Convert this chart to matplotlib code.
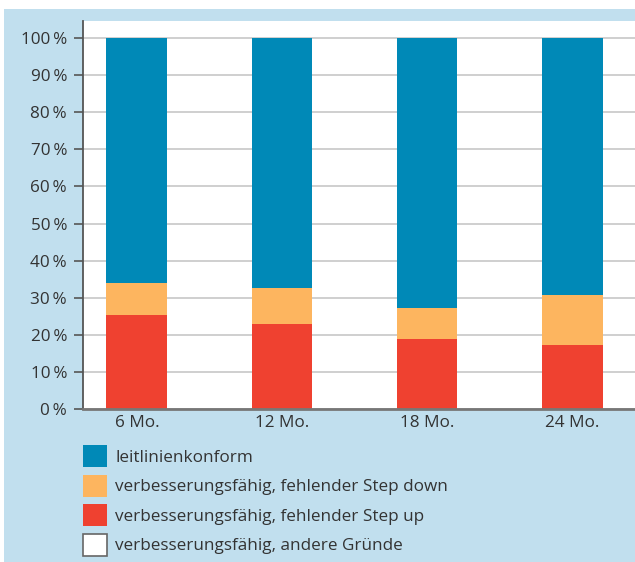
import matplotlib.pyplot as plt
from matplotlib.patches import Rectangle
import numpy as np

plt.rcParams['font.family'] = ['Open Sans', 'DejaVu Sans']

categories = ['6 Mo.', '12 Mo.', '18 Mo.', '24 Mo.']
step_up = [25.3, 22.9, 18.8, 17.2]
step_down = [8.7, 9.7, 8.4, 13.5]
andere = [0, 0, 0, 0]
konform = [66.0, 67.4, 72.8, 69.3]
yticks = [0, 10, 20, 30, 40, 50, 60, 70, 80, 90, 100]

labels = ['leitlinienkonform',
          'verbesserungsfähig, fehlender Step down',
          'verbesserungsfähig, fehlender Step up',
          'verbesserungsfähig, andere Gründe']

c_blue = '#0089b7'
c_orange = '#fdb55f'
c_red = '#ef4130'
c_bg = '#c1dfee'
c_text = '#333333'
fs = 12.3

W, H = 635, 562
fig = plt.figure(figsize=(W / 100, H / 100), dpi=100)
fig.patch.set_facecolor('white')
fig.add_artist(Rectangle((4 / W, 0), 1 - 4 / W, 1 - 9 / H,
                         transform=fig.transFigure, facecolor=c_bg,
                         edgecolor='none', zorder=0))

ax = fig.add_axes([83 / W, 1 - 409 / H, (W - 83) / W, (409 - 21) / H])
ax.set_facecolor('white')

x = np.arange(len(categories))
bw = 0.42
b_up = ax.bar(x, step_up, bw, color=c_red, linewidth=0, zorder=3)
bottom = np.array(step_up)
b_down = ax.bar(x, step_down, bw, bottom=bottom, color=c_orange,
                linewidth=0, zorder=3)
bottom = bottom + np.array(step_down)
b_ok = ax.bar(x, konform, bw, bottom=bottom, color=c_blue,
              linewidth=0, zorder=3)
bottom = bottom + np.array(konform)
ax.bar(x, andere, bw, bottom=bottom, color='white', linewidth=0, zorder=3)
# legend proxy for the (empty) white series
h_and = Rectangle((0, 0), 1, 1, facecolor='white', edgecolor='#666666',
                  linewidth=1.2)

ax.set_xlim(-0.372, 3.434)
ax.set_ylim(0, 104.6)
ax.set_yticks(yticks)
ax.set_yticklabels([f'{v}\u2009%' for v in yticks])
ax.set_xticks(x)
ax.set_xticklabels(categories)

ax.grid(axis='y', color='#cfcfcf', linewidth=1.4)
ax.set_axisbelow(True)

for s in ['top', 'right']:
    ax.spines[s].set_visible(False)
ax.spines['left'].set_color('#555555')
ax.spines['left'].set_linewidth(1.3)
ax.spines['bottom'].set_color('#777777')
ax.spines['bottom'].set_linewidth(2)
ax.spines['bottom'].set_zorder(4)

ax.tick_params(axis='y', length=6.5, width=1.2, color='#555555',
               pad=5, labelsize=fs, labelcolor=c_text)
ax.tick_params(axis='x', length=0, pad=4, labelsize=fs, labelcolor=c_text)

fig.legend([b_ok, b_down, b_up, h_and], labels,
           loc='upper left', bbox_to_anchor=(83 / W, 1 - 445 / H),
           frameon=False, borderpad=0, borderaxespad=0,
           handlelength=1.4, handleheight=1.6, handletextpad=0.5,
           labelspacing=0.45, fontsize=fs, labelcolor=c_text)

fig.savefig('out.png', dpi=100)
